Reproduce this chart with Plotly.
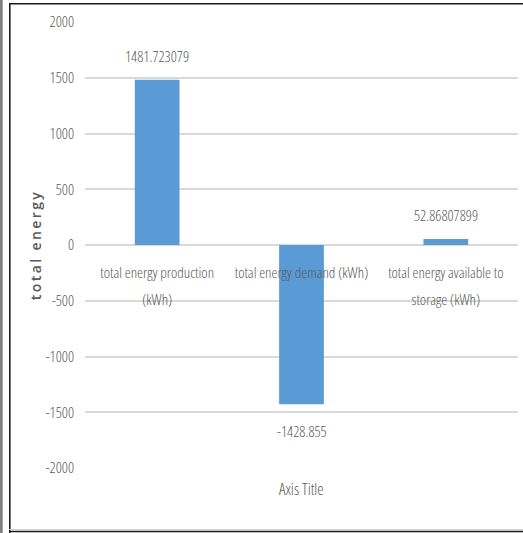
import plotly.graph_objects as go

# Energy balance summary
categories = [
    "total energy production (kWh)",
    "total energy demand (kWh)",
    "total energy available to storage (kWh)",
]
category_lines = [
    ["total energy production", "(kWh)"],
    ["total energy demand (kWh)"],
    ["total energy available to", "storage (kWh)"],
]
values = [1481.723079, -1428.855, 52.86807899]
y_tick_values = [-2000, -1500, -1000, -500, 0, 500, 1000, 1500, 2000]

W, H = 523, 533
M_L, M_R, M_T, M_B = 85, 5, 22, 65
PLOT_W = W - M_L - M_R
PLOT_H = H - M_T - M_B

FONT = "Open Sans, sans-serif"
GRAY_TEXT = "#595959"
BAR_COLOR = "#5b9bd5"
GRID = "#d9d9d9"
TEXT_WEIGHT = 350


def narrow(s, size=None):
    style = "font-stretch:condensed"
    if size:
        style += f";font-size:{size}px"
    return f"<span style='{style}'>{s}</span>"


def px_x(px):
    return (px - M_L) / PLOT_W


def px_y(py):
    return (H - M_B - py) / PLOT_H


fig = go.Figure()
fig.add_trace(
    go.Bar(
        x=categories,
        y=values,
        marker=dict(color=BAR_COLOR, line=dict(width=0)),
        width=0.31,
        showlegend=False,
        hoverinfo="x+y",
    )
)

# Value labels next to each bar
annotations = []
for cat, v in zip(categories, values):
    annotations.append(
        dict(
            x=cat,
            y=v,
            xref="x",
            yref="y",
            text=narrow(str(v)),
            showarrow=False,
            yanchor="middle",
            yshift=24 if v >= 0 else -27,
            font=dict(family=FONT, size=15, color=GRAY_TEXT, weight=TEXT_WEIGHT),
        )
    )

# Horizontal axis title under the plot
annotations.append(
    dict(
        x=0.5,
        y=px_y(489),
        xref="paper",
        yref="paper",
        text=narrow("Axis Title"),
        showarrow=False,
        yanchor="middle",
        font=dict(family=FONT, size=16, color=GRAY_TEXT, weight=TEXT_WEIGHT),
    )
)

# Frame around the chart
shapes = [
    dict(type="rect", xref="paper", yref="paper",
         x0=px_x(0), x1=px_x(2.7), y0=px_y(0), y1=px_y(H),
         fillcolor="#808080", line=dict(width=0), layer="above"),
    dict(type="line", xref="paper", yref="paper",
         x0=px_x(9.8), x1=px_x(9.8), y0=px_y(3), y1=px_y(H),
         line=dict(color="#1a1a1a", width=1.6)),
    dict(type="line", xref="paper", yref="paper",
         x0=px_x(9), x1=px_x(W), y0=px_y(3.8), y1=px_y(3.8),
         line=dict(color="#1a1a1a", width=1.6)),
    dict(type="line", xref="paper", yref="paper",
         x0=px_x(9), x1=px_x(W), y0=px_y(529.5), y1=px_y(529.5),
         line=dict(color="#d0d0d0", width=1)),
    dict(type="line", xref="paper", yref="paper",
         x0=px_x(9), x1=px_x(W), y0=px_y(531.5), y1=px_y(531.5),
         line=dict(color="#1a1a1a", width=1.6)),
]

fig.update_layout(
    width=W,
    height=H,
    margin=dict(l=M_L, r=M_R, t=M_T, b=M_B, autoexpand=False),
    paper_bgcolor="white",
    plot_bgcolor="white",
    annotations=annotations,
    shapes=shapes,
    xaxis=dict(
        type="category",
        anchor="free",
        position=0.5,
        showline=False,
        showgrid=False,
        zeroline=False,
        ticks="",
        tickangle=0,
        tickvals=categories,
        ticktext=["<br>".join(narrow(line, 15) for line in lines) for lines in category_lines],
        ticklabelstandoff=11,
        tickfont=dict(family=FONT, size=21, color=GRAY_TEXT, weight=TEXT_WEIGHT),
        range=[-0.5, 2.5],
    ),
    yaxis=dict(
        domain=[0, 1],
        range=[-2000, 2000],
        tickvals=y_tick_values,
        ticktext=[narrow(str(v)) for v in y_tick_values],
        showline=False,
        showgrid=True,
        gridcolor=GRID,
        gridwidth=1.5,
        zeroline=True,
        zerolinecolor=GRID,
        zerolinewidth=1.5,
        ticks="",
        ticklabelstandoff=10,
        tickfont=dict(family=FONT, size=15, color=GRAY_TEXT, weight=TEXT_WEIGHT),
        title=dict(
            text="<span style='letter-spacing:2.4px'>total energy</span>",
            standoff=0,
            font=dict(family=FONT, size=14, color=GRAY_TEXT, weight=600),
        ),
    ),
)

fig.write_html("out.html", config={"displayModeBar": False})
